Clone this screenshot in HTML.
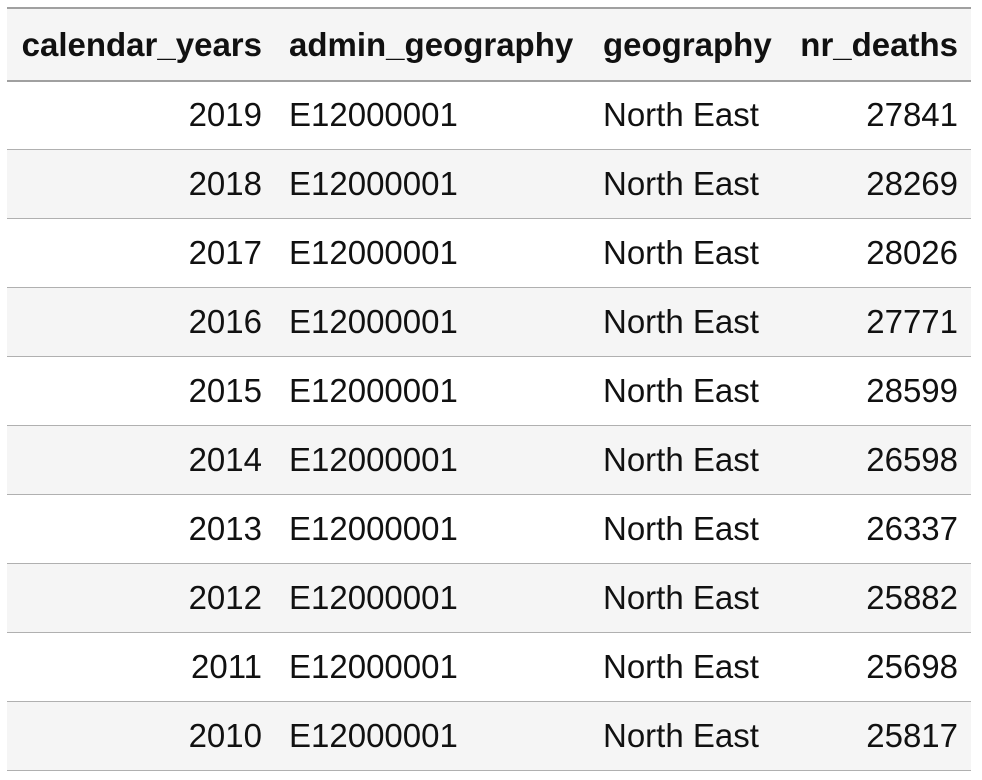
<!DOCTYPE html>
<html><head><meta charset="utf-8"><style>
html,body{margin:0;padding:0;background:#fff;width:982px;height:780px;overflow:hidden}
body{font-family:"Liberation Sans",Arial,sans-serif;font-size:33px;color:#111}
.row{position:absolute;left:7px;width:964px}
.row span{position:absolute;top:0;white-space:nowrap}
.c1{right:709px;text-align:right}
.c2{left:282px}
.c3{left:596px}
.c4{right:13px;text-align:right}
.hdr{font-weight:bold;background:#f5f5f5;border-top:2px solid #a0a0a0;border-bottom:2px solid #a0a0a0}
.alt{background:#f5f5f5}
.line{border-bottom:1px solid #b0b0b0}
</style></head><body>
<div id="tbl"></div>
<script>
const years=[2019,2018,2017,2016,2015,2014,2013,2012,2011,2010];
const codes=["E12000001","E12000001","E12000001","E12000001","E12000001","E12000001","E12000001","E12000001","E12000001","E12000001"];
const geos=["North East","North East","North East","North East","North East","North East","North East","North East","North East","North East"];
const deaths=[27841,28269,28026,27771,28599,26598,26337,25882,25698,25817];
const headers=["calendar_years","admin_geography","geography","nr_deaths"];
const tbl=document.getElementById('tbl');
function mk(cls,top,h,vals,lh){
  const r=document.createElement('div');
  r.className='row '+cls;
  r.style.top=top+'px';r.style.height=h+'px';
  ['c1','c2','c3','c4'].forEach((c,i)=>{
    const s=document.createElement('span');
    s.className=c;s.textContent=vals[i];s.style.lineHeight=lh+'px';
    r.appendChild(s);
  });
  tbl.appendChild(r);
  return r;
}
const h=mk('hdr',7,71,headers,71);


for(let i=0;i<years.length;i++){
  const r=mk((i%2?'alt ':'')+'line',81+i*69,68,[years[i],codes[i],geos[i],deaths[i]],68);
  
  
}
</script>
</body></html>
